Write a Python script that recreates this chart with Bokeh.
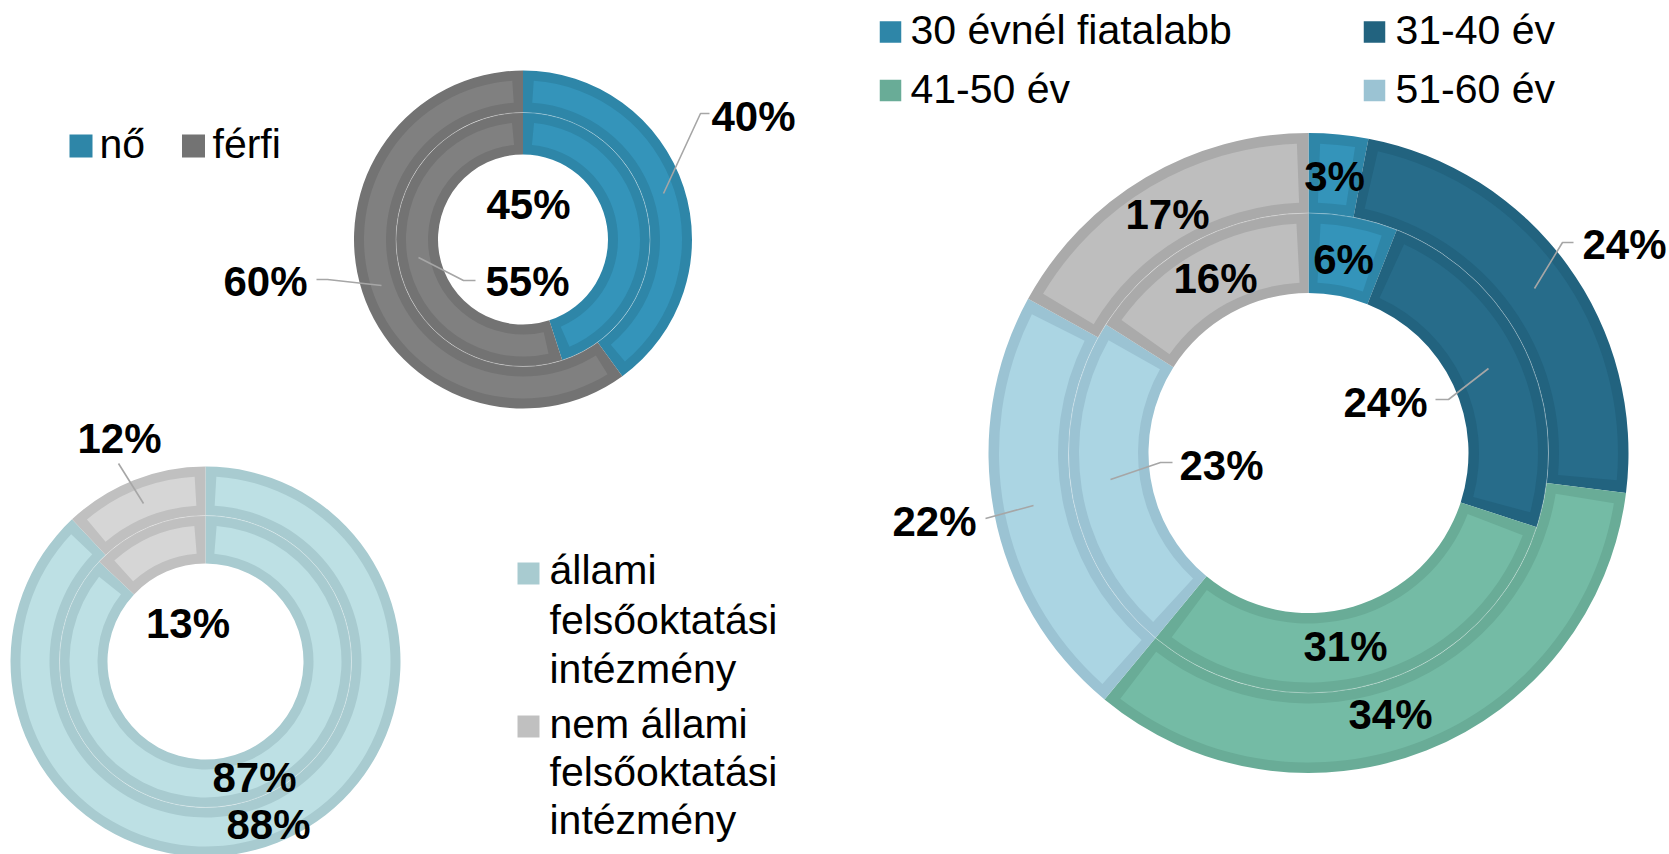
import math
from bokeh.plotting import figure
from bokeh.models import Range1d, ColumnDataSource
from bokeh.core.properties import value
from bokeh.embed import file_html
from bokeh.resources import INLINE

# ---------------- data ----------------
gender_categories = ["nő", "férfi"]
gender_inner = [45, 55]
gender_outer = [40, 60]

inst_categories = ["állami felsőoktatási intézmény", "nem állami felsőoktatási intézmény"]
inst_inner = [87, 13]
inst_outer = [88, 12]

age_categories = ["30 évnél fiatalabb", "31-40 év", "41-50 év", "51-60 év", "60 év felett"]
age_inner = [6, 24, 31, 23, 16]
age_outer = [3, 24, 34, 22, 17]

# ---------------- styles ----------------
W, H = 1669, 854
FONT = value("Liberation Sans")
gender_fill = ["#3494BA", "#808080"]
gender_edge = ["#2E86A8", "#737373"]
inst_fill = ["#BDE0E4", "#D6D6D6"]
inst_edge = ["#A8CBD0", "#C0C0C0"]
age_fill = ["#3494BA", "#276C8A", "#74BBA5", "#ABD5E3", "#BEBEBE"]
age_edge = ["#2E86A8", "#22637F", "#69AC97", "#9BC3D3", "#AAAAAA"]
LEADER = "#A6A6A6"
BASE_SHIFT = 0.34  # empirical baseline correction (fraction of font size)

p = figure(width=W, height=H, x_range=Range1d(0, W), y_range=Range1d(0, H),
           output_backend="svg", toolbar_location=None, min_border=0,
           x_axis_location=None, y_axis_location=None)
p.grid.visible = False
p.outline_line_color = None
p.background_fill_color = "white"


def Y(y):
    return H - y


def ring(cx, cy, r0, r1, values, fills, edges, b=10):
    total = float(sum(values))
    cum = 0.0
    starts, ends = [], []
    for v in values:
        starts.append(math.pi / 2 - 2 * math.pi * cum / total)
        cum += v
        ends.append(math.pi / 2 - 2 * math.pi * cum / total)
    n = len(values)
    d = b / ((r0 + r1) / 2.0)
    src = ColumnDataSource(dict(x=[cx] * n, y=[Y(cy)] * n, s=starts, e=ends,
                                si=[a - d for a in starts], ei=[a + d for a in ends],
                                fill=fills, edge=edges))
    p.annular_wedge(x="x", y="y", inner_radius=r0, outer_radius=r1, start_angle="s",
                    end_angle="e", direction="clock", fill_color="edge", line_color=None,
                    source=src)
    p.annular_wedge(x="x", y="y", inner_radius=r0 + b, outer_radius=r1 - b, start_angle="si",
                    end_angle="ei", direction="clock", fill_color="fill", line_color=None,
                    source=src)


def boundary(cx, cy, r):
    p.circle(x=[cx], y=[Y(cy)], radius=r, fill_color=None, line_color="white",
             line_alpha=0.3, line_width=1)


def labels(pts, texts, size=42, bold=True):
    cap = 0.716 * size
    shift = BASE_SHIFT * size
    p.text(x=[q[0] for q in pts], y=[Y(q[1] + cap / 2 - shift) for q in pts], text=texts,
           text_font=FONT, text_font_size=f"{size}px",
           text_font_style="bold" if bold else "normal", text_align="center",
           text_baseline="alphabetic", text_color="black")


def leaders(paths):
    p.multi_line(xs=[[q[0] for q in path] for path in paths],
                 ys=[[Y(q[1]) for q in path] for path in paths],
                 line_color=LEADER, line_width=1.6)


def pct(v):
    return f"{v}%"

# ---------------- gender donut ----------------
gc = (522.5, 239)
ring(gc[0], gc[1], 85, 127, gender_inner, gender_fill, gender_edge)
ring(gc[0], gc[1], 127, 169, gender_outer, gender_fill, gender_edge)
boundary(gc[0], gc[1], 127)

# ---------------- institution donut ----------------
ic = (205, 661)
ring(ic[0], ic[1], 98, 146, inst_inner, inst_fill, inst_edge)
ring(ic[0], ic[1], 146, 195, inst_outer, inst_fill, inst_edge)
boundary(ic[0], ic[1], 146)

# ---------------- age donut ----------------
ac = (1308, 452.5)
ring(ac[0], ac[1], 160, 240, age_inner, age_fill, age_edge, b=10.5)
ring(ac[0], ac[1], 240, 320, age_outer, age_fill, age_edge, b=10.5)
boundary(ac[0], ac[1], 240)

# ---------------- leader lines ----------------
leaders([
    [(663, 193), (700, 113), (709, 113)],
    [(316, 279), (327, 279), (381, 285)],
    [(418, 257), (463, 280), (475, 280)],
    [(118, 463), (143, 503)],
    [(1573, 242), (1562, 242), (1534, 288)],
    [(1435, 399), (1448, 399), (1488, 368)],
    [(1110, 479), (1160, 462), (1172, 462)],
    [(985, 518), (1033, 505)],
])

# ---------------- data labels ----------------
labels([(528, 203), (527, 280), (753, 115), (265, 280)],
       [pct(gender_inner[0]), pct(gender_inner[1]), pct(gender_outer[0]), pct(gender_outer[1])])
labels([(254, 776), (187.5, 622), (268, 823), (119, 437)],
       [pct(inst_inner[0]), pct(inst_inner[1]), pct(inst_outer[0]), pct(inst_outer[1])])
labels([(1343, 258), (1385, 401), (1345, 645), (1221, 464), (1215, 277)],
       [pct(v) for v in age_inner])
labels([(1334, 175), (1624, 243), (1390, 713), (934, 520), (1167, 213)],
       [pct(v) for v in age_outer])

# ---------------- legends ----------------
def legend_squares(pts, colors, size):
    p.rect(x=[q[0] for q in pts], y=[Y(q[1]) for q in pts], width=size, height=size,
           fill_color=colors, line_color=None)


def legend_text(pts, texts, size):
    shift = BASE_SHIFT * size
    p.text(x=[q[0] for q in pts], y=[Y(q[1] - shift) for q in pts], text=texts, text_font=FONT,
           text_font_size=f"{size}px", text_align="left", text_baseline="alphabetic",
           text_color="black")

# gender legend
legend_squares([(80.5, 145.5), (193, 145.5)], gender_edge, 23)
legend_text([(99, 157), (212, 157)], gender_categories, 41)

# institution legend (wrapped text)
legend_squares([(528, 573), (528, 726)], inst_edge, 22)
inst_lines = [["állami", "felsőoktatási", "intézmény"],
              ["nem állami", "felsőoktatási", "intézmény"]]
assert [" ".join(l) for l in inst_lines] == inst_categories
legend_text([(549, 583), (549, 633), (549, 682), (549, 737), (549, 785), (549, 833)],
            inst_lines[0] + inst_lines[1], 41)

# age legend (first four categories)
legend_squares([(890, 31.5), (1374, 31.5), (890, 90), (1374, 90)], age_edge[:4], 21.5)
legend_text([(910, 43), (1395, 43), (910, 102), (1395, 102)], age_categories[:4], 41)

open("out.html", "w").write(file_html(p, INLINE))
